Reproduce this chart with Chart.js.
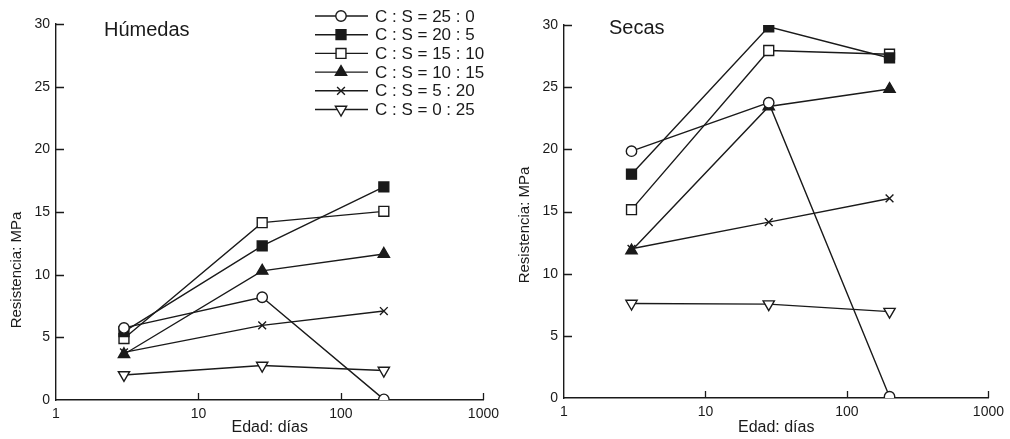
<!DOCTYPE html>
<html>
<head>
<meta charset="utf-8">
<script src="https://cdn.jsdelivr.net/npm/chart.js@4/dist/chart.umd.min.js"></script>
<style>
  html, body { margin: 0; padding: 0; background: #fff; }
  #wrap { display: flex; width: 1010px; height: 439px; }
  .box { position: relative; width: 505px; height: 439px; }
</style>
</head>
<body>
<div id="wrap">
  <div class="box"><canvas id="c1" width="505" height="439"></canvas></div>
  <div class="box"><canvas id="c2" width="505" height="439"></canvas></div>
</div>
<script>
// ---- data ----
const ages = [3, 28, 200];
const xTickValues = [1, 10, 100, 1000];
const yTickValues = [0, 5, 10, 15, 20, 25, 30];
const seriesLabels = ['C : S = 25 : 0', 'C : S = 20 : 5', 'C : S = 15 : 10', 'C : S = 10 : 15', 'C : S = 5 : 20', 'C : S = 0 : 25'];
const panelTitles = ['Húmedas', 'Secas'];
const xTitle = 'Edad: días';
const yTitle = 'Resistencia: MPa';

// Húmedas
const hum25_0 = [5.75, 8.2, 0.05];
const hum20_5 = [5.45, 12.3, 17.0];
const hum15_10 = [4.9, 14.15, 15.05];
const hum10_15 = [3.65, 10.3, 11.65];
const hum5_20 = [3.8, 5.95, 7.1];
const hum0_25 = [2.0, 2.75, 2.35];

// Secas
const sec25_0 = [19.85, 23.75, 0.1];
const sec20_5 = [18.0, 29.85, 27.35];
const sec15_10 = [15.15, 27.95, 27.65];
const sec10_15 = [11.85, 23.45, 24.85];
const sec5_20 = [12.0, 14.15, 16.05];
const sec0_25 = [7.6, 7.55, 6.95];

// ---- styles ----
const INK = '#1a1a1a';
const FONT = '"Liberation Sans", Arial, Helvetica, sans-serif';
const markerStyles = [
  { pointStyle: 'circle', radius: 5.2, fill: '#ffffff', rotation: 0 },
  { pointStyle: 'rect', radius: 7, fill: INK, rotation: 0 },
  { pointStyle: 'rect', radius: 7, fill: '#ffffff', rotation: 0 },
  { pointStyle: 'triangle', radius: 6.5, fill: INK, rotation: 0 },
  { pointStyle: 'crossRot', radius: 5.5, fill: INK, rotation: 0 },
  { pointStyle: 'triangle', radius: 6.5, fill: '#ffffff', rotation: 180 }
];

function makeDatasets(seriesList) {
  return seriesList.map((vals, i) => ({
    label: seriesLabels[i],
    data: ages.map((a, j) => ({ x: a, y: vals[j] })),
    borderColor: INK,
    borderWidth: 1.4,
    backgroundColor: markerStyles[i].fill,
    pointBackgroundColor: markerStyles[i].fill,
    pointBorderColor: INK,
    pointBorderWidth: 1.4,
    pointStyle: markerStyles[i].pointStyle,
    pointRadius: markerStyles[i].radius,
    pointRotation: markerStyles[i].rotation,
    tension: 0,
    fill: false
  }));
}

function drawMarker(ctx, st, x, y) {
  ctx.save();
  ctx.fillStyle = st.fill;
  ctx.strokeStyle = INK;
  ctx.lineWidth = 1.4;
  if (Chart.helpers && Chart.helpers.drawPoint) {
    Chart.helpers.drawPoint(ctx, { pointStyle: st.pointStyle, rotation: st.rotation, radius: st.radius, borderWidth: 1.4 }, x, y);
  }
  ctx.restore();
}

// plugin: inward ticks, panel title, y-axis title, legend
const decor = {
  id: 'decor',
  afterDraw(chart, args, opts) {
    const ctx = chart.ctx;
    const xs = chart.scales.x, ys = chart.scales.y;
    const area = chart.chartArea;
    ctx.save();
    ctx.strokeStyle = INK;
    ctx.lineWidth = 1.3;
    ctx.beginPath();
    xTickValues.slice(1).forEach(v => {
      const px = Math.round(xs.getPixelForValue(v)) + 0.5;
      ctx.moveTo(px, area.bottom);
      ctx.lineTo(px, area.bottom - 7);
    });
    yTickValues.slice(1).forEach(v => {
      const py = Math.round(ys.getPixelForValue(v)) + 0.5;
      ctx.moveTo(area.left, py);
      ctx.lineTo(area.left + 8, py);
    });
    ctx.stroke();

    // panel title
    ctx.fillStyle = INK;
    ctx.font = '20px ' + FONT;
    ctx.textAlign = 'left';
    ctx.textBaseline = 'alphabetic';
    ctx.fillText(opts.title, opts.titleX, opts.titleY);

    // y-axis title
    ctx.save();
    ctx.translate(opts.yTitleX, opts.yTitleY);
    ctx.rotate(-Math.PI / 2);
    ctx.font = '15px ' + FONT;
    ctx.textAlign = 'center';
    ctx.textBaseline = 'middle';
    ctx.fillText(yTitle, 0, 0);
    ctx.restore();

    // legend
    if (opts.legend) {
      chart.data.datasets.forEach((ds, i) => {
        const y = 16 + i * 18.7;
        ctx.beginPath();
        ctx.strokeStyle = INK;
        ctx.lineWidth = 1.4;
        ctx.moveTo(315, y);
        ctx.lineTo(368, y);
        ctx.stroke();
        drawMarker(ctx, markerStyles[i], 341, y);
        ctx.fillStyle = INK;
        ctx.font = '17px ' + FONT;
        ctx.textAlign = 'left';
        ctx.textBaseline = 'middle';
        ctx.fillText(ds.label, 375, y + 1);
      });
    }
    ctx.restore();
  }
};

function makeChart(id, seriesList, cfg) {
  return new Chart(document.getElementById(id), {
    type: 'line',
    data: { datasets: makeDatasets(seriesList) },
    plugins: [decor],
    options: {
      responsive: false,
      animation: false,
      events: [],
      layout: { padding: { left: 0, top: cfg.top, right: cfg.right, bottom: 0 } },
      plugins: {
        legend: { display: false },
        tooltip: { enabled: false },
        title: { display: false },
        decor: cfg.decor
      },
      scales: {
        x: {
          type: 'logarithmic',
          min: 1, max: 1000,
          grid: { display: false, drawTicks: false },
          border: { display: true, color: INK, width: 1.4 },
          afterBuildTicks: s => { s.ticks = xTickValues.map(v => ({ value: v })); },
          afterFit: s => { s.height = cfg.xHeight; },
          ticks: {
            color: INK, padding: 6, maxRotation: 0, autoSkip: false,
            font: { family: FONT, size: 14 },
            callback: v => String(v)
          },
          title: {
            display: true, text: xTitle, color: INK,
            font: { family: FONT, size: 16 },
            padding: { top: 0, bottom: 2 }
          }
        },
        y: {
          min: 0, max: 30,
          grid: { display: false, drawTicks: false },
          border: { display: true, color: INK, width: 1.4 },
          afterBuildTicks: s => { s.ticks = yTickValues.map(v => ({ value: v })); },
          afterFit: s => { s.width = cfg.yWidth; },
          ticks: {
            color: INK, padding: 6,
            font: { family: FONT, size: 14 },
            callback: v => String(v)
          }
        }
      }
    }
  });
}

makeChart('c1', [hum25_0, hum20_5, hum15_10, hum10_15, hum5_20, hum0_25], {
  top: 24, right: 20, xHeight: 39, yWidth: 56,
  decor: { title: panelTitles[0], titleX: 104, titleY: 36, yTitleX: 17, yTitleY: 270, legend: true }
});
makeChart('c2', [sec25_0, sec20_5, sec15_10, sec10_15, sec5_20, sec0_25], {
  top: 25, right: 17, xHeight: 41, yWidth: 59,
  decor: { title: panelTitles[1], titleX: 104, titleY: 34, yTitleX: 20, yTitleY: 225, legend: false }
});
</script>
</body>
</html>
